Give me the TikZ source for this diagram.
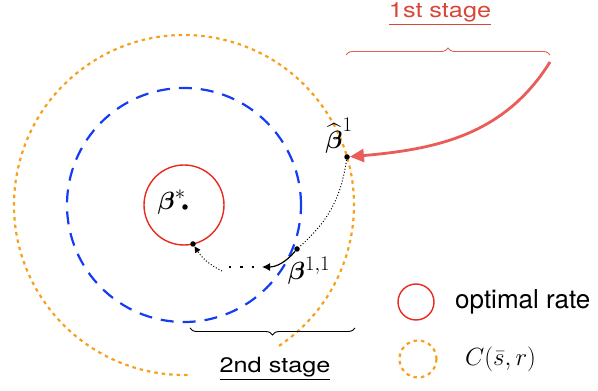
\RequirePackage{fix-cm}
\documentclass[tikz,border=0pt]{standalone}
\usepackage{amsmath}
\usepackage{fontspec}
\usepackage{tikz}
\usetikzlibrary{arrows.meta, positioning, decorations.pathreplacing}
\newfontfamily\helv{TeX Gyre Heros}
\newfontfamily\helvwide[FakeStretch=1.2]{TeX Gyre Heros}
\definecolor{cirorange}{RGB}{247,160,30}
\definecolor{stepblue}{RGB}{20,60,240}
\definecolor{optred}{RGB}{235,40,30}
\definecolor{arrowred}{RGB}{234,92,88}
\definecolor{stagered}{RGB}{215,70,55}

\begin{document}
\begin{tikzpicture}[
    x=1pt, y=1pt,
    dot/.style={circle, fill=black, inner sep=0pt, minimum size=5.5pt},
    lbl/.style={inner sep=0pt, font=\Huge},
    optring/.style={draw=optred, line width=1.4pt},
    cring/.style={draw=cirorange, line width=2.2pt, dash pattern=on 3.5pt off 4pt},
    stepring/.style={draw=stepblue, line width=2.2pt, dash pattern=on 13pt off 9pt},
    walk/.style={dotted, line width=1pt},
    bigarr/.style={-{Triangle[length=14pt, width=13pt]}, draw=arrowred, line width=2.8pt},
    brc/.style={decorate, decoration={brace, amplitude=7pt}, line width=0.9pt},
    stage/.style={font=\helvwide\fontsize{21}{24}\selectfont, inner sep=1pt},
    keytext/.style={font=\helv\fontsize{26}{30}\selectfont},
]
\useasboundingbox (0,0) rectangle (598,391);

% rings round the optimum
\coordinate (ctr) at (184,186);
\draw[cring] (ctr) ++(-56:170) arc[start angle=-56, end angle=272, radius=170];
\draw[stepring] (ctr) circle[radius=117];
\draw[optring] (ctr) circle[radius=40];

% points
\node[dot] (bstar) at (185,184) {};
\node[dot] (b1) at (347,234) {};
\node[dot] (b11) at (297,142) {};
\node[dot] (bopt) at (193,147) {};

\node[lbl, left=-4pt of bstar, yshift=5pt] (lstar) {$\boldsymbol{\beta}^{*}$};
\node[lbl, above=1pt of b1, xshift=-8pt] (lb1) {$\widehat{\boldsymbol{\beta}}^{1}$};
\node[lbl, below=5pt of b11, xshift=12pt] (lb11) {$\boldsymbol{\beta}^{1,1}$};

% second stage walk
\coordinate (tipL) at (262,124);
\coordinate (dA) at (229,124);
\coordinate (dB) at (254,124);
\coordinate (dC) at (222,120);
\draw[walk] (b1) to[bend left=20] (b11);
\draw[-{Latex[length=8pt, width=8pt]}, line width=1.2pt] (b11) to[out=-130, in=0] (tipL);
\draw[line width=2.4pt, dash pattern=on 2.4pt off 9pt] (dA) -- (dB);
\draw[walk, -{Triangle[length=6pt, width=6pt]}] (dC) to[bend left=15] (bopt);

% first stage
\coordinate (rstart) at (550,329);
\draw[bigarr] (rstart) to[out=-122, in=5] (b1);
\coordinate (br1L) at (346,336);
\coordinate (br1R) at (550,336);
\draw[brc, draw=stagered!85] (br1L) -- (br1R);
\node[stage, text=stagered] (s1) at (440,377) {\underline{1st stage}};

% second stage brace
\coordinate (br2R) at (355,63);
\coordinate (br2L) at (190,63);
\draw[brc] (br2R) -- (br2L);
\node[stage] (s2) at (275,22) {\underline{2nd stage}};

% key
\node[circle, optring, minimum size=36pt] (keyopt) at (416,89) {};
\node[keytext, right=17pt of keyopt] (tkeyopt) {optimal rate};
\node[circle, cring, minimum size=37pt] (keyc) at (418,32) {};
\node[right=24pt of keyc, font=\Huge] (tkeyc) {$C(\bar{s}, r)$};
\end{tikzpicture}
\end{document}
